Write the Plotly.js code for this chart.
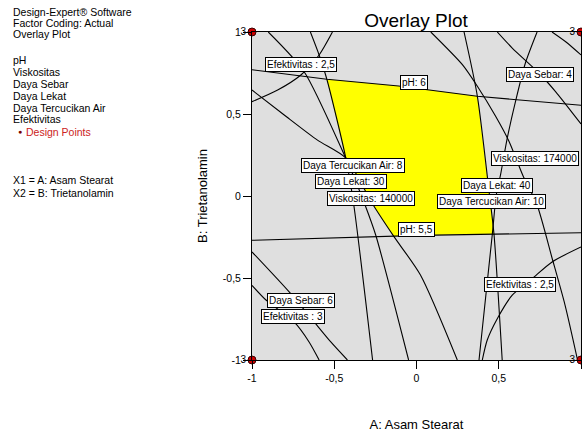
<!DOCTYPE html>
<html><head><meta charset="utf-8">
<script src="https://cdn.plot.ly/plotly-3.0.1.min.js"></script>
<style>html,body{margin:0;padding:0;background:#fff}#chart{width:582px;height:432px}</style>
</head><body><div id="chart"></div>
<script>
// ---- data (coded factor units: A = Asam Stearat, B = Trietanolamin) ----
const pH6X = [-1, -0.545, -0.109, 0.370, 1];
const pH6Y = [0.770, 0.712, 0.671, 0.608, 0.553];
const pH55X = [-1, 0.024, 1];
const pH55Y = [-0.270, -0.240, -0.224];
const lekat30X = [-0.645, -0.592, -0.545, -0.430, -0.382, -0.267];
const lekat30Y = [1, 0.860, 0.712, 0.232, -0.049, -1];
const tercucikan8X = [-0.901, -0.683, -0.430, -0.388, -0.315, -0.248, -0.048];
const tercucikan8Y = [1, 0.758, 0.230, 0.134, -0.049, -0.238, -1];
const visko140X = [-1, -0.804, -0.602, -0.430, -0.267, -0.139, 0.024, 0.248];
const visko140Y = [0.646, 0.494, 0.341, 0.232, -0.049, -0.245, -0.482, -1];
const efek25aX = [-0.511, -0.592, -0.703, -0.844, -1];
const efek25aY = [1, 0.860, 0.738, 0.646, 0.575];
const visko174X = [0.087, 0.279, 0.370, 0.481, 0.562, 0.648, 0.733, 0.824, 0.903, 0.979];
const visko174Y = [1, 0.801, 0.669, 0.486, 0.334, 0.122, -0.055, -0.378, -0.665, -1];
const lekat40X = [0.733, 0.662, 0.602, 0.552, 0.511, 0.485, 0.461, 0.380];
const lekat40Y = [1, 0.811, 0.577, 0.354, 0.130, 0.006, -0.232, -1];
const tercucikan10X = [0.289, 0.370, 0.441, 0.471, 0.521];
const tercucikan10Y = [1, 0.608, 0.029, -0.232, -1];
const sebar4X = [0.491, 0.582, 0.744, 0.844, 1];
const sebar4Y = [1, 0.902, 0.750, 0.638, 0.439];
const arcTopRightX = [0.824, 0.909, 1];
const arcTopRightY = [1, 0.939, 0.860];
const efek25bX = [1, 0.824, 0.703, 0.582, 0.491, 0.430, 0.400];
const efek25bY = [-0.311, -0.402, -0.504, -0.605, -0.748, -0.878, -1];
const sebar6X = [-1, -0.774, -0.622, -0.521, -0.420];
const sebar6Y = [-0.341, -0.585, -0.768, -0.890, -1];
const efek3X = [-1, -0.915, -0.744, -0.653, -0.592];
const efek3Y = [-0.545, -0.634, -0.768, -0.890, -1];

const yellowX = [-0.545, -0.109, 0.370, 0.441, 0.471, 0.024, -0.139, -0.267, -0.430, -0.545];
const yellowY = [0.712, 0.671, 0.608, 0.029, -0.232, -0.240, -0.245, -0.049, 0.232, 0.712];

const designX = [-1, -1, 1, 1];
const designY = [-1, 1, -1, 1];
const designText = ['3', '3', '3', '3'];

const tickVals = [-1, -0.5, 0, 0.5, 1];
const tickText = ['-1', '-0,5', '0', '0,5', '1'];

const labelText = ['Efektivitas : 2,5', 'pH: 6', 'Daya Sebar: 4', 'Daya Tercucikan Air: 8',
  'Daya Lekat: 30', 'Viskositas: 140000', 'Viskositas: 174000', 'Daya Lekat: 40',
  'Daya Tercucikan Air: 10', 'pH: 5,5', 'Efektivitas : 2,5', 'Daya Sebar: 6', 'Efektivitas : 3'];

const sideHeader = ['Design-Expert® Software', 'Factor Coding: Actual', 'Overlay Plot'];
const sideResponses = ['pH', 'Viskositas', 'Daya Sebar', 'Daya Lekat', 'Daya Tercucikan Air', 'Efektivitas'];
const sideFactors = ['X1 = A: Asam Stearat', 'X2 = B: Trietanolamin'];

// ---- traces ----
const FONT = 'Liberation Sans, Arial, sans-serif';
const lineSets = [
  [pH6X, pH6Y, 'linear'], [pH55X, pH55Y, 'linear'],
  [lekat30X, lekat30Y, 'spline'], [tercucikan8X, tercucikan8Y, 'spline'],
  [visko140X, visko140Y, 'spline'], [efek25aX, efek25aY, 'spline'],
  [visko174X, visko174Y, 'spline'], [lekat40X, lekat40Y, 'spline'],
  [tercucikan10X, tercucikan10Y, 'spline'], [sebar4X, sebar4Y, 'spline'],
  [arcTopRightX, arcTopRightY, 'spline'], [efek25bX, efek25bY, 'spline'],
  [sebar6X, sebar6Y, 'spline'], [efek3X, efek3Y, 'spline']
];
const traces = [{
  x: yellowX, y: yellowY, type: 'scatter', mode: 'lines', fill: 'toself',
  fillcolor: '#ffff00', line: {width: 0, color: '#ffff00'}, hoverinfo: 'skip'
}];
lineSets.forEach(function (s) {
  traces.push({x: s[0], y: s[1], type: 'scatter', mode: 'lines',
    line: {color: '#000000', width: 1.1, shape: s[2], smoothing: 0.7}, hoverinfo: 'skip'});
});
traces.push({
  x: designX, y: designY, type: 'scatter', mode: 'markers+text', text: designText,
  textposition: 'middle left', textfont: {family: FONT, size: 10, color: '#000'},
  marker: {size: 8, color: '#cc0000', line: {color: '#3a0000', width: 1}},
  cliponaxis: false
});

// ---- annotations ----
const labelPos = [[-0.700, 0.799], [-0.018, 0.695], [0.748, 0.742], [-0.388, 0.186],
  [-0.400, 0.087], [-0.277, -0.015], [0.718, 0.230], [0.491, 0.064],
  [0.455, -0.035], [-0.002, -0.204], [0.632, -0.538], [-0.700, -0.639], [-0.750, -0.733]];
const annotations = labelText.map(function (t, i) {
  return {text: t, x: labelPos[i][0], y: labelPos[i][1], xref: 'x', yref: 'y',
    showarrow: false, bgcolor: '#ffffff', bordercolor: '#000000', borderwidth: 1, borderpad: 1,
    font: {family: FONT, size: 10, color: '#000000'}, xanchor: 'center', yanchor: 'middle'};
});
const L = 252, T = 32, PW = 329, PH = 328;
function px2paperX(px) { return (px - L) / PW; }
function py2paperY(py) { return (T + PH - py) / PH; }
function sideText(t, px, py, color) {
  annotations.push({text: t, x: px2paperX(px), y: py2paperY(py), xref: 'paper', yref: 'paper',
    xanchor: 'left', yanchor: 'middle', showarrow: false,
    font: {family: FONT, size: 10.5, color: color || '#000000'}});
}
sideHeader.forEach(function (t, i) { sideText(t, 11, 12 + 11 * i); });
sideResponses.forEach(function (t, i) { sideText(t, 11, 59.5 + 12 * i); });
sideText('Design Points', 24, 131.5, '#cc2222');
annotations.push({text: '●', x: px2paperX(20), y: py2paperY(131.5), xref: 'paper', yref: 'paper',
  xanchor: 'center', yanchor: 'middle', showarrow: false,
  font: {family: FONT, size: 7, color: '#7a0000'}});
sideFactors.forEach(function (t, i) { sideText(t, 11, 180 + 12.5 * i); });

const layout = {
  width: 582, height: 432,
  margin: {l: L, r: 582 - L - PW, t: T, b: 432 - T - PH},
  paper_bgcolor: '#ffffff', plot_bgcolor: '#dfdfdf',
  showlegend: false,
  title: {text: 'Overlay Plot', font: {family: FONT, size: 19, color: '#000'},
    x: 416 / 582, xanchor: 'center', xref: 'container', y: 1 - 20 / 432, yanchor: 'middle', yref: 'container'},
  xaxis: {range: [-1, 1], tickvals: tickVals, ticktext: tickText, ticks: 'outside', ticklen: 8,
    tickcolor: '#000', tickwidth: 1, showgrid: false, zeroline: false, showline: true, mirror: true,
    linecolor: '#000', linewidth: 1, tickfont: {family: FONT, size: 10.5, color: '#000'},
    title: {text: 'A: Asam Stearat', font: {family: FONT, size: 13, color: '#000'}, standoff: 39}},
  yaxis: {range: [-1, 1], tickvals: tickVals, ticktext: tickText, ticks: 'outside', ticklen: 8,
    tickcolor: '#000', tickwidth: 1, showgrid: false, zeroline: false, showline: true, mirror: true,
    linecolor: '#000', linewidth: 1, tickfont: {family: FONT, size: 10.5, color: '#000'},
    title: {text: 'B: Trietanolamin', font: {family: FONT, size: 13, color: '#000'}, standoff: 12}},
  annotations: annotations
};
Plotly.newPlot('chart', traces, layout, {staticPlot: true, displayModeBar: false});
</script>
</body></html>
